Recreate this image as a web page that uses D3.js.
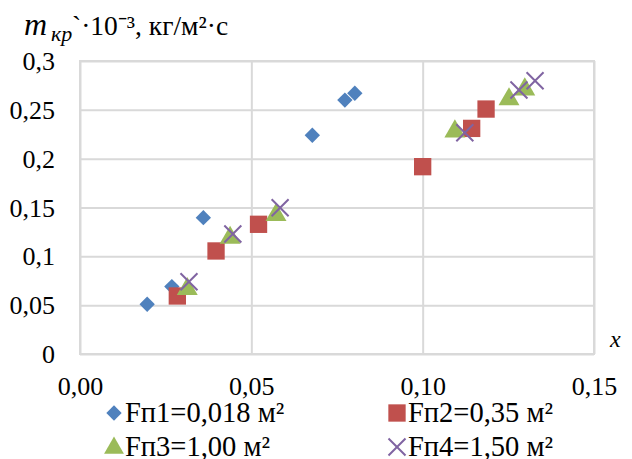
<!DOCTYPE html>
<html><head><meta charset="utf-8">
<script src="https://cdn.jsdelivr.net/npm/d3@7"></script>
<style>body{margin:0;background:#fff}svg{display:block}</style>
</head><body><svg id="c" width="632" height="459"></svg>
<script>
const xTicks = [0, 0.05, 0.10, 0.15];
const xTickLabels = ["0,00", "0,05", "0,10", "0,15"];
const yTicks = [0, 0.05, 0.1, 0.15, 0.2, 0.25, 0.3];
const yTickLabels = ["0", "0,05", "0,1", "0,15", "0,2", "0,25", "0,3"];
const seriesNames = ["Fп1=0,018 м²", "Fп2=0,35 м²", "Fп3=1,00 м²", "Fп4=1,50 м²"];
const s1x = [0.0196, 0.0268, 0.0360, 0.0678, 0.0773, 0.0802];
const s1y = [0.0509, 0.0690, 0.1396, 0.2240, 0.2600, 0.2670];
const s2x = [0.0284, 0.0397, 0.0521, 0.1000, 0.1143, 0.1185];
const s2y = [0.0594, 0.1055, 0.1328, 0.1918, 0.2310, 0.2508];
const s3x = [0.0313, 0.0438, 0.0572, 0.1094, 0.1252, 0.1298];
const s3y = [0.0676, 0.1200, 0.1433, 0.2290, 0.2618, 0.2720];
const s4x = [0.0318, 0.0446, 0.0584, 0.1123, 0.1281, 0.1328];
const s4y = [0.0740, 0.1229, 0.1498, 0.2266, 0.2703, 0.2798];

const FONT = "Liberation Serif";
const colors = ["#4F81BD", "#C0504D", "#9BBB59", "#8064A2"];
const svg = d3.select("#c").attr("font-family", FONT);
const L = 80, R = 594, T = 61, B = 354;
const x = d3.scaleLinear().domain([0, 0.15]).range([L, R]);
const y = d3.scaleLinear().domain([0, 0.3]).range([B, T]);
const grid = "#d9d9d9";

const xAxis = d3.axisBottom(x).tickValues(xTicks).tickSize(-(B - T)).tickFormat((d, i) => xTickLabels[i]);
const gx = svg.append("g").attr("transform", `translate(0,${B})`).call(xAxis).attr("font-family", FONT);
gx.select(".domain").remove();
gx.selectAll("line").attr("stroke", grid).attr("stroke-width", 2);
gx.selectAll("text").attr("font-size", 26).attr("dy", 0).attr("y", 41).attr("fill", "#000");

const yAxis = d3.axisLeft(y).tickValues(yTicks).tickSize(-(R - L)).tickFormat((d, i) => yTickLabels[i]);
const gy = svg.append("g").attr("transform", `translate(${L},0)`).call(yAxis).attr("font-family", FONT);
gy.select(".domain").remove();
gy.selectAll("line").attr("stroke", grid).attr("stroke-width", 2);
gy.selectAll("text").attr("font-size", 26).attr("x", -25).attr("dy", "0.33em").attr("fill", "#000");

svg.append("rect").attr("x", L).attr("y", T).attr("width", R - L).attr("height", B - T)
  .attr("fill", "none").attr("stroke", grid).attr("stroke-width", 2);

const sym = [
  d3.symbol().type(d3.symbolDiamond2).size(150),
  d3.symbol().type(d3.symbolSquare).size(300),
  d3.symbol().type(d3.symbolTriangle).size(190),
  d3.symbol().type(d3.symbolTimes).size(190)
];
const data = [[s1x, s1y], [s2x, s2y], [s3x, s3y], [s4x, s4y]];
data.forEach(([xs, ys], k) => {
  const pts = xs.map((v, i) => [v, ys[i]]);
  svg.append("g").selectAll("path").data(pts).join("path")
    .attr("transform", d => `translate(${x(d[0])},${y(d[1]) + (k === 2 ? 1 : 0)})`)
    .attr("d", sym[k]())
    .attr("fill", k === 3 ? "none" : colors[k])
    .attr("stroke", k === 3 ? colors[k] : "none")
    .attr("stroke-width", k === 3 ? 2 : 0);
});

const t = svg.append("text").attr("y", 35).attr("font-size", 27.5);
t.append("tspan").attr("x", 24).attr("font-style", "italic").attr("font-size", 32).text("m");
t.append("tspan").attr("x", 51).attr("font-style", "italic").attr("font-size", 22).attr("dy", 6).text("кр");
t.append("tspan").attr("x", 72).attr("dy", -6).text("`·10⁻³, кг/м²·с");

svg.append("text").attr("x", 610).attr("y", 347).attr("font-size", 24).attr("font-style", "italic").text("x");

const legPos = [[114, 413], [397, 413], [114, 447], [397, 447]];
const legSym = [
  d3.symbol().type(d3.symbolDiamond2).size(150),
  d3.symbol().type(d3.symbolSquare).size(300),
  d3.symbol().type(d3.symbolTriangle).size(170),
  d3.symbol().type(d3.symbolTimes).size(190)
];
seriesNames.forEach((n, k) => {
  const [lx, ly] = legPos[k];
  svg.append("path").attr("transform", `translate(${lx},${ly + (k === 2 ? 1 : 0)})`).attr("d", legSym[k]())
    .attr("fill", k === 3 ? "none" : colors[k])
    .attr("stroke", k === 3 ? colors[k] : "none").attr("stroke-width", 2);
  svg.append("text").attr("x", lx + 11).attr("y", ly + 9).attr("font-size", 28.5).text(n);
});
</script></body></html>
